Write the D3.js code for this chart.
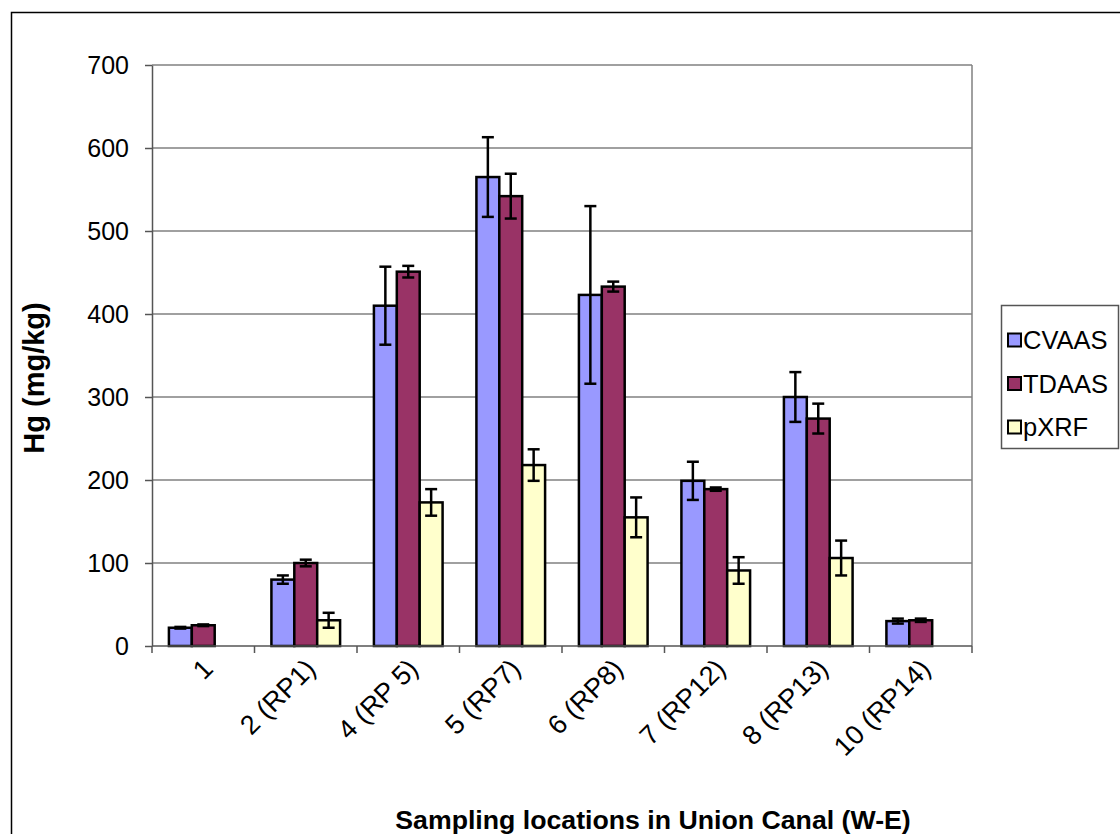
<!DOCTYPE html>
<html>
<head>
    <meta charset="utf-8">
    <title>Hg in Union Canal</title>
    <style>
        body { margin: 0; background: #fff; }
        svg { display: block; font-family: "Liberation Sans", Arial, sans-serif; }
        .grid line { stroke: #808080; stroke-width: 1.5px; }
        .axis path, .axis line { stroke: #555; stroke-width: 1.5px; }
        .axis text { fill: #000; font-size: 25px; }
        .axis text.xl { font-size: 27px; }
        .bar { stroke: #000; stroke-width: 2.5px; }
        .err { stroke: #000; stroke-width: 2.5px; }
    </style>
    <script src="https://d3js.org/d3.v7.min.js"></script>
</head>
<body>
<script>
    var categories = ["1", "2  (RP1)", "4 (RP 5)", "5 (RP7)", "6 (RP8)", "7 (RP12)", "8 (RP13)", "10 (RP14)"];
    var seriesNames = ["CVAAS", "TDAAS", "pXRF"];
    var seriesColors = ["#9999FF", "#993366", "#FFFFCC"];

    var cvaas = [22, 80, 410, 565, 423, 199, 300, 30];
    var cvaasErr = [1, 5, 47, 48, 107, 23, 30, 3];
    var tdaas = [25, 100, 451, 542, 433, 189, 274, 31];
    var tdaasErr = [1, 4, 7, 27, 6, 2, 18, 2];
    var pxrf = [0, 31, 173, 218, 155, 91, 106, 0];
    var pxrfErr = [0, 9, 16, 19, 24, 16, 21, 0];

    var yTicks = [0, 100, 200, 300, 400, 500, 600, 700];

    var values = [cvaas, tdaas, pxrf];
    var errors = [cvaasErr, tdaasErr, pxrfErr];

    var w = 1120, h = 834;
    var plotLeft = 152, plotRight = 972, plotTop = 65, plotBottom = 646;

    var svg = d3.select("body").append("svg")
        .attr("width", w)
        .attr("height", h);

    // chart frame (runs off the picture on the right and bottom)
    svg.append("rect")
        .attr("x", 11.5).attr("y", 12.5)
        .attr("width", 1200).attr("height", 900)
        .attr("fill", "none").attr("stroke", "#000").attr("stroke-width", 1.5);

    var x0 = d3.scaleBand().domain(categories).range([plotLeft, plotRight]);
    var bw = x0.bandwidth();
    var x1 = d3.scaleBand().domain(seriesNames).range([bw * 0.165, bw * 0.835]);
    var y = d3.scaleLinear().domain([0, 700]).range([plotBottom, plotTop]);

    // gridlines
    svg.append("g").attr("class", "grid")
        .selectAll("line")
        .data(yTicks.slice(1))
        .enter().append("line")
        .attr("x1", plotLeft).attr("x2", plotRight)
        .attr("y1", function (d) { return y(d); })
        .attr("y2", function (d) { return y(d); });

    // right border of plot area
    svg.append("line")
        .attr("x1", plotRight).attr("x2", plotRight)
        .attr("y1", plotTop).attr("y2", plotBottom)
        .attr("stroke", "#808080").attr("stroke-width", 1.5);

    // bars
    seriesNames.forEach(function (name, si) {
        var g = svg.append("g");
        g.selectAll("rect")
            .data(values[si])
            .enter().append("rect")
            .attr("class", "bar")
            .attr("x", function (d, i) { return x0(categories[i]) + x1(name); })
            .attr("width", x1.bandwidth())
            .attr("y", function (d) { return y(d); })
            .attr("height", function (d) { return y(0) - y(d); })
            .attr("fill", seriesColors[si]);

        // error bars
        var eg = svg.append("g").attr("class", "err");
        values[si].forEach(function (v, i) {
            var e = errors[si][i];
            if (v <= 0) return;
            var cx = x0(categories[i]) + x1(name) + x1.bandwidth() / 2;
            eg.append("line").attr("x1", cx).attr("x2", cx).attr("y1", y(v - e)).attr("y2", y(v + e));
            eg.append("line").attr("x1", cx - 6).attr("x2", cx + 6).attr("y1", y(v + e)).attr("y2", y(v + e));
            eg.append("line").attr("x1", cx - 6).attr("x2", cx + 6).attr("y1", y(v - e)).attr("y2", y(v - e));
        });
    });

    // y axis
    svg.append("g").attr("class", "axis")
        .attr("transform", "translate(" + plotLeft + ",0)")
        .call(d3.axisLeft(y).tickValues(yTicks).tickSize(7).tickSizeOuter(0).tickPadding(16))
        .selectAll("text").attr("dy", "0.35em");

    // x axis
    var xAxis = svg.append("g").attr("class", "axis")
        .attr("transform", "translate(0," + plotBottom + ")");
    xAxis.append("line").attr("x1", plotLeft).attr("x2", plotRight);
    xAxis.selectAll(".tk")
        .data(categories.concat([null]))
        .enter().append("line")
        .attr("class", "tk")
        .attr("x1", function (d, i) { return plotLeft + i * bw; })
        .attr("x2", function (d, i) { return plotLeft + i * bw; })
        .attr("y1", 0).attr("y2", 7);
    xAxis.selectAll("text")
        .data(categories)
        .enter().append("text")
        .attr("class", "xl")
        .attr("text-anchor", "end")
        .attr("transform", function (d) {
            return "translate(" + (x0(d) + bw / 2 - 2) + ",11) rotate(-45)";
        })
        .attr("dy", "0.7em")
        .text(function (d) { return d; });

    // axis titles
    svg.append("text")
        .attr("transform", "translate(44,378) rotate(-90)")
        .attr("text-anchor", "middle")
        .style("font-size", "29px").style("font-weight", "bold")
        .text("Hg (mg/kg)");

    svg.append("text")
        .attr("x", 653).attr("y", 829)
        .attr("text-anchor", "middle")
        .style("font-size", "26.7px").style("font-weight", "bold")
        .text("Sampling locations in Union Canal (W-E)");

    // legend
    var lg = svg.append("g");
    lg.append("rect")
        .attr("x", 1001.5).attr("y", 305.5)
        .attr("width", 117).attr("height", 143)
        .attr("fill", "#fff").attr("stroke", "#555").attr("stroke-width", 1.5);
    seriesNames.forEach(function (name, i) {
        var cy = 340 + i * 43.5;
        lg.append("rect")
            .attr("x", 1008).attr("y", cy - 6.5)
            .attr("width", 13).attr("height", 13)
            .attr("fill", seriesColors[i]).attr("stroke", "#000").attr("stroke-width", 2);
        lg.append("text")
            .attr("x", 1023).attr("y", cy)
            .attr("dy", "0.36em")
            .style("font-size", "25.5px")
            .text(name);
    });
</script>
</body>
</html>
